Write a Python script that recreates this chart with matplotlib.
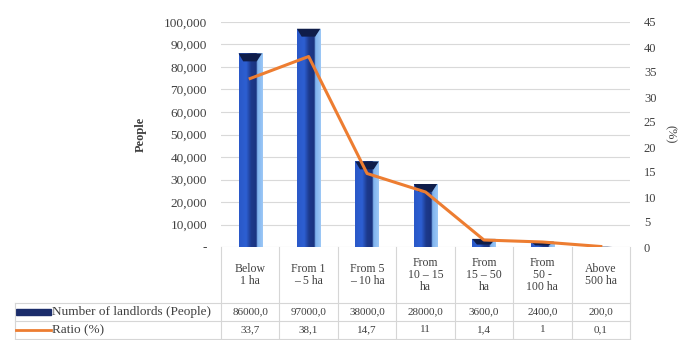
import matplotlib
matplotlib.use("Agg")
import matplotlib.pyplot as plt
import matplotlib.transforms as mtransforms
from matplotlib.colors import LinearSegmentedColormap
from matplotlib.patches import Polygon, Rectangle
from matplotlib.lines import Line2D
import numpy as np

categories = ["Below\n1 ha", "From 1\n– 5 ha", "From 5\n– 10 ha", "From\n10 – 15\nha",
              "From\n15 – 50\nha", "From\n50 -\n100 ha", "Above\n500 ha"]
landlords = [86000, 97000, 38000, 28000, 3600, 2400, 200]
ratio = [33.7, 38.1, 14.7, 11, 1.4, 1, 0.1]
landlord_labels = ["86000,0", "97000,0", "38000,0", "28000,0", "3600,0", "2400,0", "200,0"]
ratio_labels = ["33,7", "38,1", "14,7", "11", "1,4", "1", "0,1"]
left_ticks = list(range(0, 100001, 10000))
right_ticks = list(range(0, 46, 5))
series_names = ["Number of landlords (People)", "Ratio (%)"]

plt.rcParams['font.family'] = ['Liberation Serif', 'DejaVu Serif']
TXT = "#404040"
GRID = "#d9d9d9"
ORANGE = "#ed7d31"

fig = plt.figure(figsize=(6.78, 3.40), dpi=100)
ax = fig.add_axes([221/678, 1-247/340, 409/678, 225/340])
x = np.arange(len(categories))
ax.set_xlim(-0.5, len(categories)-0.5)
ax.set_ylim(0, 100000)

width = 0.4
bars = ax.bar(x, landlords, width=width, color="none", zorder=2)
cmap = LinearSegmentedColormap.from_list("bev", [
    (0.0, "#2a58c8"), (0.3, "#2d5fd2"), (0.5, "#1d3a8c"), (0.72, "#1a3380"),
    (0.78, "#7fb3ee"), (1.0, "#9cc8f6")])
grad = np.linspace(0, 1, 64).reshape(1, -1)
for b, h in zip(bars, landlords):
    x0 = b.get_x(); w = b.get_width()
    im = ax.imshow(grad, cmap=cmap, extent=[x0, x0+w, 0, h], aspect='auto',
                   zorder=2, origin='lower')
    im.set_clip_path(b)
    cap = min(3500, h*0.7)
    ax.add_patch(Polygon([(x0, h), (x0+w, h), (x0+0.78*w, h-cap), (x0+0.2*w, h-cap)],
                         closed=True, color="#0f1d4a", zorder=3, lw=0))
ax.set_xlim(-0.5, len(categories)-0.5)
ax.set_ylim(0, 100000)

ax.set_yticks(left_ticks)
ax.set_yticklabels(["-"] + [f"{v:,}" for v in left_ticks[1:]])
ax.grid(axis='y', color=GRID, lw=0.8, zorder=0)
ax.set_axisbelow(True)
for s in ax.spines.values():
    s.set_visible(False)
ax.tick_params(axis='y', length=0, pad=10, labelsize=9.5, labelcolor=TXT)
ax.tick_params(axis='x', length=0, labelbottom=False)
ax.set_ylabel("People", fontsize=9, color=TXT, fontweight='bold', labelpad=12)

ax2 = ax.twinx()
ax2.set_ylim(0, 45)
ax2.plot(x, ratio, color=ORANGE, lw=2.2, zorder=4)
ax2.set_yticks(right_ticks)
for s in ax2.spines.values():
    s.set_visible(False)
ax2.tick_params(axis='y', length=0, pad=10, labelsize=9, labelcolor=TXT)
ax2.set_ylabel("(%)", fontsize=9, color=TXT, rotation=270, labelpad=14)

# data table
bt = mtransforms.blended_transform_factory(ax.transData, ax.transAxes)
y_head = -56/225
y_r1 = -74/225
y_r2 = -92/225
x_left = (15-221)/409
lc = "#d6d6d6"
for i in range(len(categories)+1):
    ax.add_line(Line2D([i-0.5, i-0.5], [0, y_r2], transform=bt, color=lc, lw=0.8, clip_on=False))
for yy in (y_head, y_r1, y_r2):
    ax.add_line(Line2D([x_left, 1], [yy, yy], transform=ax.transAxes, color=lc, lw=0.8, clip_on=False))
ax.add_line(Line2D([x_left, x_left], [y_head, y_r2], transform=ax.transAxes, color=lc, lw=0.8, clip_on=False))

for i, c in enumerate(categories):
    ax.text(i, y_head/2, c, transform=bt, ha='center', va='center', fontsize=8.5,
            color=TXT, linespacing=1.05)
    ax.text(i, (y_head+y_r1)/2, landlord_labels[i], transform=bt, ha='center', va='center',
            fontsize=8, color=TXT)
    ax.text(i, (y_r1+y_r2)/2, ratio_labels[i], transform=bt, ha='center', va='center',
            fontsize=8, color=TXT)

kx0 = (16-221)/409; kx1 = (51-221)/409
ym1 = (y_head+y_r1)/2; ym2 = (y_r1+y_r2)/2
ax.add_patch(Rectangle((kx0, ym1-0.012), kx1-kx0, 0.024, transform=ax.transAxes,
                       color="#1b2d6b", clip_on=False))
ax.add_line(Line2D([kx0, kx1], [ym2, ym2], transform=ax.transAxes, color=ORANGE, lw=2,
                   clip_on=False))
ax.text((52-221)/409, ym1, series_names[0], transform=ax.transAxes, ha='left', va='center',
        fontsize=9.5, color=TXT)
ax.text((52-221)/409, ym2, series_names[1], transform=ax.transAxes, ha='left', va='center',
        fontsize=9.5, color=TXT)

fig.savefig("out.png", dpi=100)
